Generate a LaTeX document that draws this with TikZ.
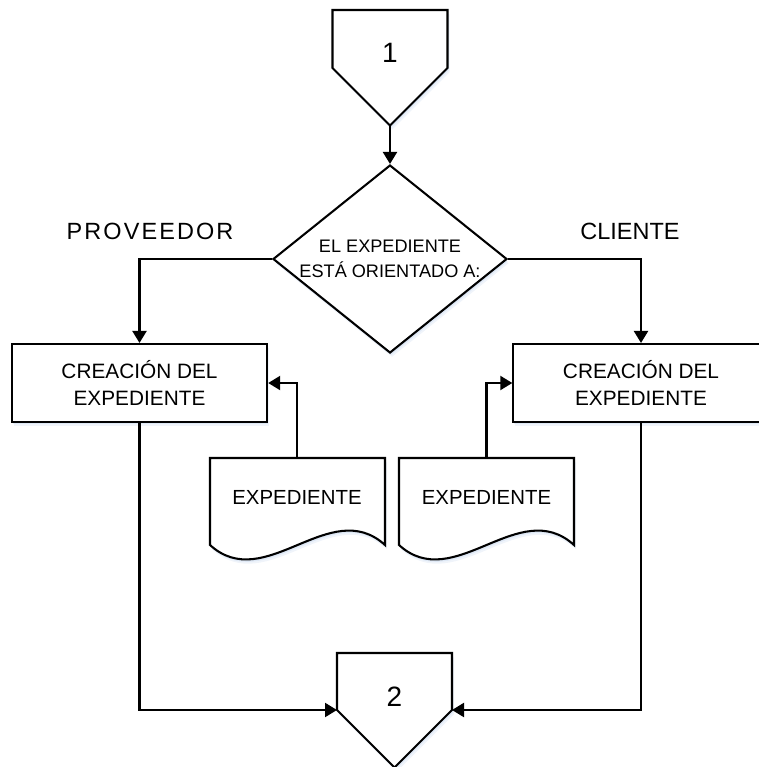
\documentclass[tikz,border=0pt]{standalone}
\usepackage{fontspec}
\setmainfont{Liberation Sans}
\usetikzlibrary{arrows.meta,shapes.geometric,shadows}
\definecolor{shadowblue}{RGB}{170,195,230}
\begin{document}
\begin{tikzpicture}[x=0.75pt,y=-0.75pt,
  softshadow/.style={
    drop shadow={shadow xshift=1.5pt,shadow yshift=-3.2pt,opacity=0.18,fill=shadowblue},
    drop shadow={shadow xshift=0.8pt,shadow yshift=-1.8pt,opacity=0.25,fill=shadowblue}},
  shapeline/.style={draw=black,line width=1.55pt,fill=white,line join=miter},
  arr/.style={draw=black,line width=1.6pt,-{Triangle[length=9pt,width=10.5pt]}},
  boxtxt/.style={font=\fontsize{15.6}{20.2}\selectfont,align=center},
  dectxt/.style={font=\fontsize{13.6}{18.8}\selectfont,align=center},
  doctxt/.style={font=\fontsize{15.3}{18}\selectfont},
  lbltxt/.style={font=\fontsize{17.6}{20}\selectfont},
  numtxt/.style={font=\fontsize{21}{24}\selectfont},
  procbox/.style={shapeline,softshadow,rectangle,minimum width=191.5pt,minimum height=58.5pt,inner sep=0pt,boxtxt},
  decbox/.style={shapeline,softshadow,diamond,shape aspect=1.245,minimum width=175.5pt,minimum height=141pt,inner sep=0pt,dectxt}
]
\useasboundingbox (0,0) rectangle (758,767);

% off-page connector 1
\draw[shapeline,softshadow] (332.5,10) -- (447.5,10) -- (447.5,68) -- (390,125.5) -- (332.5,68) -- cycle;
\node[numtxt,inner sep=0pt] (n1) at (390,53) {1};
\coordinate (c1tip) at (390,125.5);

% decision
\node[decbox] (d) at (390,259) {EL EXPEDIENTE\\ESTÁ ORIENTADO A:};
\draw[arr] (c1tip) -- (d.north);

% labels
\node[lbltxt] (lp) at (150,231) {\addfontfeatures{LetterSpace=9}PROVEEDOR};
\node[lbltxt] (lc) at (630,231) {CLIENTE};

% process boxes
\node[procbox] (b1) at (139.5,383) {CREACIÓN DEL\\EXPEDIENTE};
\node[procbox] (b2) at (641,383) {CREACIÓN DEL\\EXPEDIENTE};
\draw[arr] (d.west) -| (b1.north);
\draw[arr] (d.east) -| (b2.north);

% documents
\draw[shapeline,softshadow] (210,545) -- (210,458) -- (385,458) -- (385,545)
  .. controls (330,495) and (265,595) .. (210,545) -- cycle;
\node[doctxt] (t1) at (297,497) {EXPEDIENTE};
\coordinate (doc1) at (297,458);
\draw[shapeline,softshadow] (399,545) -- (399,458) -- (574,458) -- (574,545)
  .. controls (519,495) and (454,595) .. (399,545) -- cycle;
\node[doctxt] (t2) at (486.5,497) {EXPEDIENTE};
\coordinate (doc2) at (486.5,458);
\draw[arr] (doc1) |- (b1.east);
\draw[arr] (doc2) |- (b2.west);

% off-page connector 2
\draw[shapeline,softshadow] (337,653) -- (452,653) -- (452,710) -- (394.5,767.5) -- (337,710) -- cycle;
\node[numtxt,inner sep=0pt] (n2) at (394.5,697) {2};
\coordinate (c2w) at (337,710);
\coordinate (c2e) at (452,710);
\draw[arr] (b1.south) |- (c2w);
\draw[arr] (b2.south) |- (c2e);
\end{tikzpicture}
\end{document}
